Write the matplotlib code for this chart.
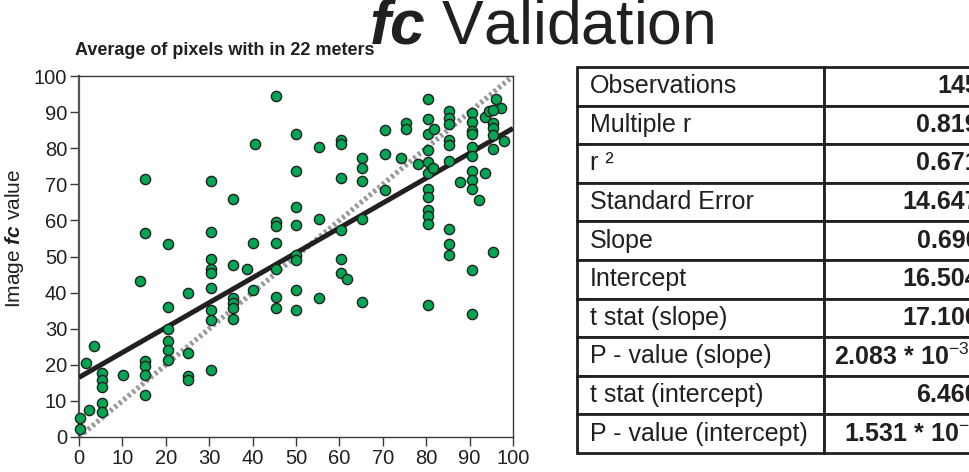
import matplotlib
matplotlib.use("Agg")
import matplotlib.pyplot as plt
from matplotlib import font_manager

x_field = [0.3, 0.3, 1.5, 2.2, 3.4, 5.3, 5.3, 5.3, 5.3, 5.3, 10.1, 14.0,
           15.3, 15.3, 15.3, 15.3, 15.3, 15.3,
           20.5, 20.5, 20.5, 20.5, 20.5, 20.5,
           25.2, 25.2, 25.2, 25.2,
           30.3, 30.3, 30.3, 30.3, 30.3, 30.3, 30.3, 30.3, 30.3,
           35.5, 35.5, 35.5, 35.5, 35.5, 35.5,
           38.6, 40.2, 40.2, 40.6,
           45.3, 45.3, 45.3, 45.3, 45.3, 45.3, 45.3,
           50.1, 50.1, 50.1, 50.1, 50.1, 50.1, 50.1, 50.1,
           55.4, 55.4, 55.4,
           60.4, 60.4, 60.4, 60.4, 60.4, 60.4, 61.7,
           65.2, 65.2, 65.2, 65.2, 65.2,
           70.4, 70.4, 70.4,
           74.3, 75.4, 75.4, 78.1,
           80.3, 80.3, 80.3, 80.3, 80.3, 80.3, 80.3, 80.3, 80.3, 80.3, 80.3, 80.3,
           81.5, 81.8,
           85.3, 85.3, 85.3, 85.3, 85.3, 85.3, 85.3, 85.3, 85.3,
           87.8,
           90.6, 90.6, 90.6, 90.6, 90.6, 90.6, 90.6, 90.6, 90.6, 90.6, 90.6,
           92.1, 93.6, 94.4,
           95.3, 95.3, 95.3, 95.3, 95.3,
           93.6, 96.1, 97.3, 95.5, 98.0]
y_image = [5.3, 2.3, 20.4, 7.6, 25.3, 17.7, 15.7, 13.9, 9.5, 6.8, 17.1, 43.3,
           71.5, 56.5, 21.0, 19.6, 17.1, 11.5,
           53.6, 36.0, 30.0, 26.6, 24.0, 21.3,
           40.0, 23.3, 16.8, 15.7,
           70.8, 56.9, 49.4, 46.4, 45.5, 41.3, 35.2, 32.3, 18.5,
           66.0, 47.6, 38.5, 37.0, 35.6, 32.8,
           46.5, 53.7, 40.8, 81.3,
           94.5, 59.6, 58.4, 53.7, 46.5, 38.8, 35.7,
           84.0, 73.6, 63.6, 58.8, 50.3, 49.1, 40.8, 35.1,
           80.3, 60.4, 38.6,
           82.2, 81.3, 71.7, 57.3, 49.2, 45.3, 43.7,
           77.4, 74.6, 70.8, 60.3, 37.5,
           85.0, 78.3, 68.5,
           77.4, 87.1, 85.4, 75.5,
           93.5, 88.2, 83.8, 79.4, 76.2, 73.1, 68.6, 66.5, 62.8, 61.2, 58.9, 36.5,
           74.5, 85.4,
           90.3, 88.4, 86.8, 82.4, 80.8, 76.5, 57.5, 53.6, 50.5,
           70.6,
           89.8, 87.3, 84.7, 84.0, 80.2, 77.8, 73.6, 71.3, 68.8, 46.2, 34.2,
           65.6, 88.6, 90.3,
           87.0, 85.7, 83.6, 79.7, 51.2,
           73.1, 93.5, 91.2, 90.5, 82.1]

slope = 0.690
intercept = 16.504
ticks = [0, 10, 20, 30, 40, 50, 60, 70, 80, 90, 100]

stat_names = ["Observations", "Multiple r", "r ²", "Standard Error", "Slope",
              "Intercept", "t stat (slope)", "P - value (slope)",
              "t stat (intercept)", "P - value (intercept)"]
stat_values = ["145", "0.819", "0.671", "14.647", "0.690", "16.504", "17.106",
               "2.083 * 10$^{-36}$", "6.460", "1.531 * 10$^{-9}$"]

# no narrow Helvetica here, so fall back to plain Liberation Sans at smaller sizes
names = {f.name for f in font_manager.fontManager.ttflist}
narrow = "Liberation Sans Narrow" if "Liberation Sans Narrow" in names else "Liberation Sans"
has_narrow = narrow != "Liberation Sans"

plt.rcParams["font.family"] = ["Liberation Sans", "DejaVu Sans"]
plt.rcParams["mathtext.fontset"] = "custom"
plt.rcParams["mathtext.rm"] = "Liberation Sans"
plt.rcParams["mathtext.it"] = "Liberation Sans:italic"
plt.rcParams["mathtext.bf"] = "Liberation Sans:bold"
plt.rcParams["mathtext.bfit"] = "Liberation Sans:bold:italic"

ink = "#231f20"
fig = plt.figure(figsize=(9.69, 4.72), dpi=100)
ax = fig.add_axes([79 / 969, 35 / 472, 434 / 969, 361 / 472])

xs = [0, 100]
ax.plot(xs, xs, color="#9a9a9a", lw=3.8, ls=(0, (0.55, 0.55)), zorder=2)
ax.plot(xs, [intercept + slope * v for v in xs], color=ink, lw=3.6,
        solid_capstyle="butt", zorder=3)
ax.scatter(x_field, y_image, s=54, c="#00a651", edgecolors=ink, linewidths=1.0,
           zorder=4, clip_on=False)

ax.set_xlim(0, 100)
ax.set_ylim(0, 100)
ax.set_xticks(ticks)
ax.set_yticks(ticks)
for sp in ax.spines.values():
    sp.set_color("#3a3a3a")
    sp.set_linewidth(1.0)
ax.spines["left"].set_color("#555555")
ax.spines["left"].set_linewidth(1.6)
ax.tick_params(direction="out", length=6.5, width=1.0, color="#3a3a3a",
               labelcolor=ink, pad=2)
for lab in ax.get_xticklabels() + ax.get_yticklabels():
    lab.set_fontfamily(narrow)
    lab.set_fontsize(16 if has_narrow else 14.5)

fig.text(15 / 969, 1 - 238 / 472, r"Image $\mathbfit{fc}$ value", rotation=90,
         ha="center", va="center", fontsize=15, color=ink)
fig.text(542 / 969, 1 - 44 / 472, r"$\mathbfit{fc}$ Validation", ha="center",
         va="baseline", fontsize=45, color=ink)
fig.text(75 / 969, 1 - 55 / 472, "Average of pixels with in 22 meters",
         family=narrow, fontweight="bold", va="baseline",
         fontsize=15 if has_narrow else 13, color=ink)

# stats table, running off the right edge like the original
tax = fig.add_axes([577 / 969, 19 / 472, 414 / 969, 386 / 472])
tax.axis("off")
tbl = tax.table(cellText=[[n, v] for n, v in zip(stat_names, stat_values)],
                colWidths=[247 / 414, 167 / 414], bbox=[0, 0, 1, 1])
tbl.auto_set_font_size(False)
tbl.set_fontsize(18)
for (r, c), cell in tbl.get_celld().items():
    cell.set_linewidth(2.0)
    cell.set_edgecolor(ink)
    t = cell.get_text()
    t.set_color(ink)
    if c == 0:
        cell.PAD = 13 / 247
        t.set_ha("left")
    else:
        cell.PAD = 12 / 167
        t.set_ha("right")
        t.set_fontweight("bold")

fig.savefig("out.png", dpi=100)
